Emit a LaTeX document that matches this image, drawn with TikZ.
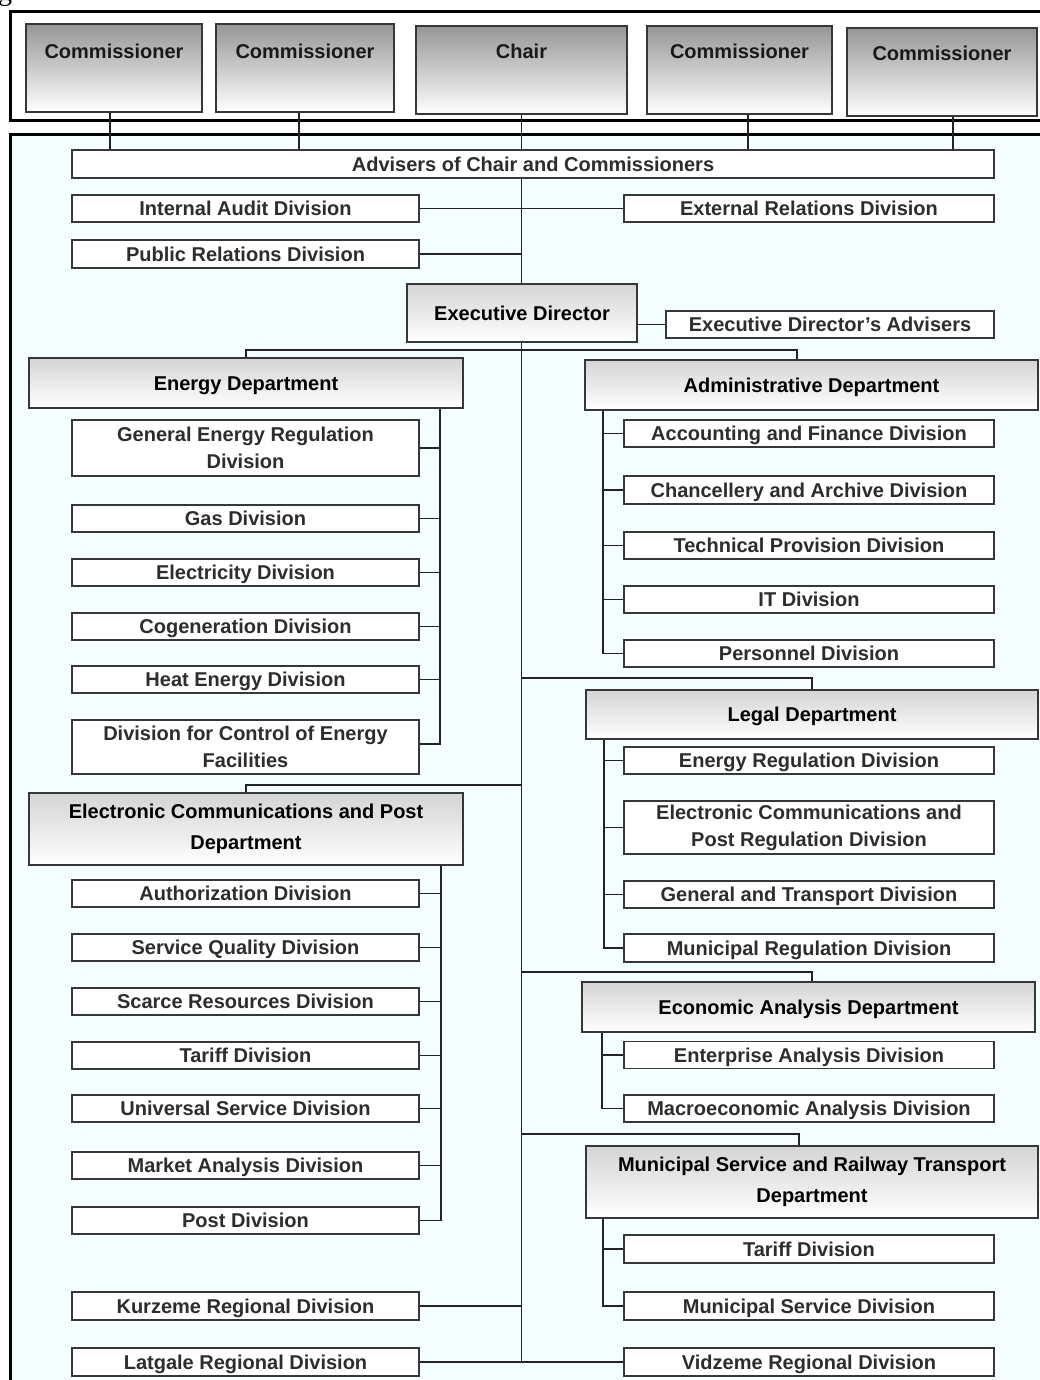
\documentclass[tikz,border=0pt]{standalone}
\usepackage{fontspec}
\setmainfont{Liberation Sans}
\newfontfamily\serifg{Liberation Serif}
\pgfdeclarelayer{bglayer}
\pgfdeclarelayer{connlayer}
\pgfsetlayers{bglayer,connlayer,main}
\definecolor{bgc}{RGB}{244,254,254}
\definecolor{bdr}{RGB}{55,55,55}
\definecolor{cnc}{RGB}{35,35,35}
\definecolor{txtd}{RGB}{45,45,45}
\definecolor{topg}{RGB}{150,150,150}
\definecolor{deptg}{RGB}{212,212,212}
\tikzset{
  conn/.style={draw=cnc, line width=1.9pt},
  frame/.style={draw=black, line width=3pt},
  boxbase/.style={draw=bdr, line width=1.5pt, inner sep=0pt, align=center,
    font=\bfseries\fontsize{20}{27}\selectfont},
  div/.style={boxbase, fill=white, text=txtd},
  one/.style={text height=14.3pt, text depth=0pt},
  leftdiv/.style={div, minimum width=347pt},
  rightdiv/.style={div, minimum width=370pt},
  dept/.style={boxbase, top color=deptg, bottom color=white, text=black},
  topbox/.style={draw=bdr, line width=1.5pt, top color=topg, bottom color=white, inner sep=0pt},
  toptxt/.style={anchor=base, inner sep=0pt, text=black!90, font=\bfseries\fontsize{20}{24}\selectfont}
}
\begin{document}
\begin{tikzpicture}[x=1pt,y=-1pt]
\useasboundingbox (0,0) rectangle (1040,1380);
% cut-off glyph at top-left
\node[anchor=base west, inner sep=0pt, font=\serifg\fontsize{28}{28}\selectfont] (gfrag) at (-2,1) {g};
\begin{pgfonlayer}{bglayer}
  \draw[frame] (10,12) rectangle (1070,121);
  \draw[frame, fill=bgc] (10,135) rectangle (1070,1420);
\end{pgfonlayer}

% top boxes
\node[topbox, minimum width=176pt, minimum height=88pt] (c1) at (114,68) {};
\node[topbox, minimum width=178pt, minimum height=88pt] (c2) at (305,68) {};
\node[topbox, minimum width=211pt, minimum height=88pt] (chair) at (521.5,70) {};
\node[topbox, minimum width=185pt, minimum height=88pt] (c3) at (739.5,70) {};
\node[topbox, minimum width=190pt, minimum height=88pt] (c4) at (942,72) {};
\node[toptxt] (t1) at (114,59) {Commissioner};
\node[toptxt] (t2) at (305,59) {Commissioner};
\node[toptxt] (t3) at (521.5,59) {Chair};
\node[toptxt] (t4) at (739.5,59) {Commissioner};
\node[toptxt] (t5) at (942,61) {Commissioner};

% upper level
\node[div, one, minimum width=922pt, minimum height=28pt] (adv) at (533,164) {Advisers of Chair and Commissioners};
\node[leftdiv, one, minimum height=27pt] (iad) at (245.5,208.5) {Internal Audit Division};
\node[rightdiv, one, minimum height=27pt] (erd) at (809,208.5) {External Relations Division};
\node[leftdiv, one, minimum height=28pt] (prd) at (245.5,254) {Public Relations Division};
\node[dept, one, minimum width=230pt, minimum height=58pt] (ed) at (522,313) {Executive Director};
\node[div, one, minimum width=328pt, minimum height=27pt] (eda) at (830,324.5) {Executive Director's Advisers};

% Energy department
\node[dept, one, minimum width=434pt, minimum height=50pt] (enr) at (246,383) {Energy Department};
\node[leftdiv, minimum height=56pt] (gerd) at (245.5,448) {General Energy Regulation\\Division};
\node[leftdiv, one, minimum height=27pt] (gas) at (245.5,518.5) {Gas Division};
\node[leftdiv, one, minimum height=27pt] (elec) at (245.5,572.5) {Electricity Division};
\node[leftdiv, one, minimum height=27pt] (cogen) at (245.5,626.5) {Cogeneration Division};
\node[leftdiv, one, minimum height=27pt] (heat) at (245.5,679.5) {Heat Energy Division};
\node[leftdiv, minimum height=54pt] (ctrl) at (245.5,747) {Division for Control of Energy\\Facilities};

% Administrative department
\node[dept, one, minimum width=453pt, minimum height=50pt] (adm) at (811.5,385) {Administrative Department};
\node[rightdiv, one, minimum height=27pt] (acc) at (809,433.5) {Accounting and Finance Division};
\node[rightdiv, one, minimum height=28pt] (chan) at (809,490) {Chancellery and Archive Division};
\node[rightdiv, one, minimum height=27pt] (tech) at (809,545.5) {Technical Provision Division};
\node[rightdiv, one, minimum height=27pt] (itd) at (809,599.5) {IT Division};
\node[rightdiv, one, minimum height=27pt] (pers) at (809,653.5) {Personnel Division};

% Legal department
\node[dept, one, minimum width=452pt, minimum height=49pt] (legal) at (812,714.5) {Legal Department};
\node[rightdiv, one, minimum height=27pt] (ergd) at (809,760.5) {Energy Regulation Division};
\node[rightdiv, minimum height=53pt] (ecprd) at (809,827.5) {Electronic Communications and\\Post Regulation Division};
\node[rightdiv, one, minimum height=27pt] (gtd) at (809,894.5) {General and Transport Division};
\node[rightdiv, one, minimum height=28pt] (mrd) at (809,948) {Municipal Regulation Division};

% Electronic communications and post department
\node[dept, minimum width=434pt, minimum height=72pt, font=\bfseries\fontsize{20}{31.5}\selectfont] (ecp) at (246,829) {Electronic Communications and Post\\Department};
\node[leftdiv, one, minimum height=27pt] (auth) at (245.5,893.5) {Authorization Division};
\node[leftdiv, one, minimum height=27pt] (sqd) at (245.5,947.5) {Service Quality Division};
\node[leftdiv, one, minimum height=27pt] (scr) at (245.5,1001.5) {Scarce Resources Division};
\node[leftdiv, one, minimum height=27pt] (tar) at (245.5,1055.5) {Tariff Division};
\node[leftdiv, one, minimum height=27pt] (usd) at (245.5,1108.5) {Universal Service Division};
\node[leftdiv, one, minimum height=27pt] (mad) at (245.5,1165.5) {Market Analysis Division};
\node[leftdiv, one, minimum height=27pt] (post) at (245.5,1220.5) {Post Division};

% Economic analysis department
\node[dept, one, minimum width=453pt, minimum height=50pt] (econ) at (808.5,1007) {Economic Analysis Department};
\node[rightdiv, one, minimum height=27pt] (ent) at (809,1055) {Enterprise Analysis Division};
\node[rightdiv, one, minimum height=27pt] (macro) at (809,1108.5) {Macroeconomic Analysis Division};

% Municipal service and railway transport department
\node[dept, minimum width=452pt, minimum height=72pt, font=\bfseries\fontsize{20}{31.5}\selectfont] (mun) at (812,1182) {Municipal Service and Railway Transport\\Department};
\node[rightdiv, one, minimum height=28pt] (mtar) at (809,1249) {Tariff Division};
\node[rightdiv, one, minimum height=28pt] (msd) at (809,1306) {Municipal Service Division};

% regional divisions
\node[leftdiv, one, minimum height=28pt] (kur) at (245.5,1306) {Kurzeme Regional Division};
\node[leftdiv, one, minimum height=28pt] (lat) at (245.5,1362) {Latgale Regional Division};
\node[rightdiv, one, minimum height=28pt] (vid) at (809,1362) {Vidzeme Regional Division};

\begin{pgfonlayer}{connlayer}
  % commissioners and chair to advisers
  \draw[conn] ([xshift=-4pt]c1.south) -- ([xshift=-4pt]c1.south |- adv.north);
  \draw[conn] ([xshift=-6pt]c2.south) -- ([xshift=-6pt]c2.south |- adv.north);
  \draw[conn] ([xshift=8.5pt]c3.south) -- ([xshift=8.5pt]c3.south |- adv.north);
  \draw[conn] ([xshift=11pt]c4.south) -- ([xshift=11pt]c4.south |- adv.north);
  % main spine
  \draw[conn] (chair.south) -- (chair.south |- lat.east);
  \draw[conn] (iad.east) -- (erd.west);
  \draw[conn] (prd.east) -- (prd.east -| chair.south);
  \draw[conn] (eda.west) -- (eda.west -| ed.east);
  % departments
  \draw[conn] (enr.north) |- (ed.south |- 0,350) -| ([xshift=-14.5pt]adm.north);
  \draw[conn] (ed.south |- 0,678) -| (legal.north);
  \draw[conn] (ed.south |- 0,785) -| (ecp.north);
  \draw[conn] (ed.south |- 0,972) -| ([xshift=3.5pt]econ.north);
  \draw[conn] (ed.south |- 0,1134) -| ([xshift=-13pt]mun.north);
  % energy divisions
  \draw[conn] (enr.south -| 440,0) |- ([yshift=3pt]ctrl.east);
  \foreach \n in {gerd,gas,elec,cogen,heat} \draw[conn] (\n.east) -- (\n.east -| 440,0);
  % admin divisions
  \draw[conn] (adm.south -| 603,0) |- (pers.west);
  \foreach \n in {acc,chan,tech,itd} \draw[conn] (\n.west) -- (\n.west -| 603,0);
  % legal divisions
  \draw[conn] (legal.south -| 604,0) |- (mrd.west);
  \foreach \n in {ergd,ecprd,gtd} \draw[conn] (\n.west) -- (\n.west -| 604,0);
  % ecp divisions
  \draw[conn] (ecp.south -| 441,0) |- (post.east);
  \foreach \n in {auth,sqd,scr,tar,usd,mad} \draw[conn] (\n.east) -- (\n.east -| 441,0);
  % econ divisions
  \draw[conn] (econ.south -| 602,0) |- (macro.west);
  \draw[conn] (ent.west) -- (ent.west -| 602,0);
  % municipal divisions
  \draw[conn] (mun.south -| 603,0) |- (msd.west);
  \draw[conn] (mtar.west) -- (mtar.west -| 603,0);
  % regional divisions
  \draw[conn] (kur.east) -- (kur.east -| chair.south);
  \draw[conn] (lat.east) -- (vid.west);
\end{pgfonlayer}
\end{tikzpicture}
\end{document}
